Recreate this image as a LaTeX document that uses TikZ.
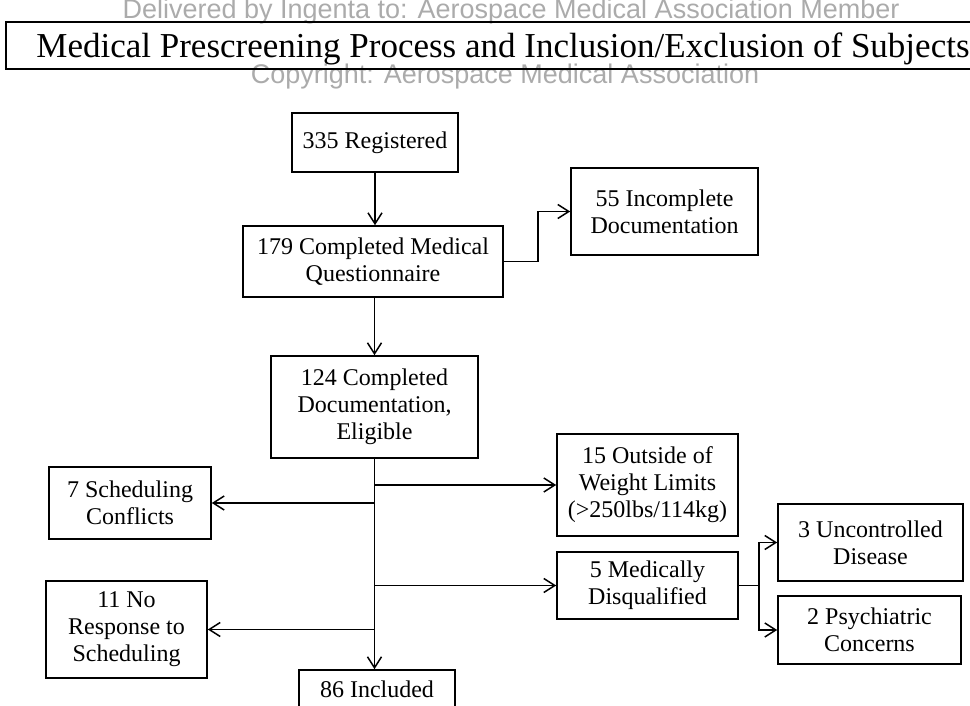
\documentclass[tikz,border=0pt]{standalone}
\usepackage{fontspec}
\setmainfont{Liberation Serif}
\newfontfamily\wmfont{Liberation Sans}
\usetikzlibrary{arrows.meta}
\begin{document}
\begin{tikzpicture}[x=1pt,y=-1pt,
  box/.style={draw,line width=1.6pt,align=center,inner sep=0pt,
    font=\fontsize{24}{27}\selectfont},
  arr/.style={line width=1.6pt,-{Straight Barb[length=11pt,width=14pt,line width=1.5pt]}},
  wm/.style={text=black!33,font=\wmfont\fontsize{27}{27}\selectfont,inner sep=0pt}]
\useasboundingbox (0,0) rectangle (970,706);
\clip (0,0) rectangle (970,706);
% watermark
\node[wm] (wm1) at (511,12) {Delivered by Ingenta to: Aerospace Medical Association Member};
\node[wm] (wm3) at (505,77) {Copyright: Aerospace Medical Association};
% title
\node[draw,line width=1.6pt,minimum width=990,minimum height=47,anchor=west,inner sep=0pt] (titlebox) at (5,45.5) {};
\node[anchor=base,inner sep=0pt,font=\fontsize{35}{35}\selectfont] (title) at (503,58) {Medical Prescreening Process and Inclusion/Exclusion of Subjects};
% boxes
\node[box,minimum width=166,minimum height=59] (reg) at (375,142.5) {335 Registered};
\node[box,minimum width=260,minimum height=71] (quest) at (373,261.5) {179 Completed Medical\\Questionnaire};
\node[box,minimum width=187,minimum height=87] (incomp) at (664.5,211.5) {55 Incomplete\\Documentation};
\node[box,minimum width=207,minimum height=102] (elig) at (374.5,407) {124 Completed\\Documentation,\\Eligible};
\node[box,minimum width=181,minimum height=102] (weight) at (647.5,485) {15 Outside of\\Weight Limits\\(>250lbs/114kg)};
\node[box,minimum width=181,minimum height=67] (med) at (647.5,585.5) {5 Medically\\Disqualified};
\node[box,minimum width=185,minimum height=77] (unc) at (870.5,542.5) {3 Uncontrolled\\Disease};
\node[box,minimum width=183,minimum height=68] (psy) at (869.5,630) {2 Psychiatric\\Concerns};
\node[box,minimum width=162,minimum height=72] (sched) at (130,503) {7 Scheduling\\Conflicts};
\node[box,minimum width=161,minimum height=97] (noresp) at (126.5,629.5) {11 No\\Response to\\Scheduling};
\node[box,minimum width=156,minimum height=76] (incl) at (377,708) {};
\node[inner sep=0pt,font=\fontsize{24}{27}\selectfont,anchor=base] (incltext) at (377,697) {86 Included};
% connectors
\draw[arr] (reg.south) -- (reg.south |- quest.north);
\draw[arr] (quest.east) -- ++(34,0) |- (incomp.west);
\draw[arr] (quest.south -| elig.north) -- (elig.north);
\draw[arr] (elig.south) -- (elig.south |- incl.north);
\draw[arr] (elig.south |- weight.west) -- (weight.west);
\draw[arr] (elig.south |- sched.east) -- (sched.east);
\draw[arr] (elig.south |- med.west) -- (med.west);
\draw[arr] (elig.south |- noresp.east) -- (noresp.east);
\draw[arr] (med.east) -- ++(20,0) coordinate (split) |- (unc.west);
\draw[arr] (split) |- (psy.west);
\end{tikzpicture}
\end{document}
